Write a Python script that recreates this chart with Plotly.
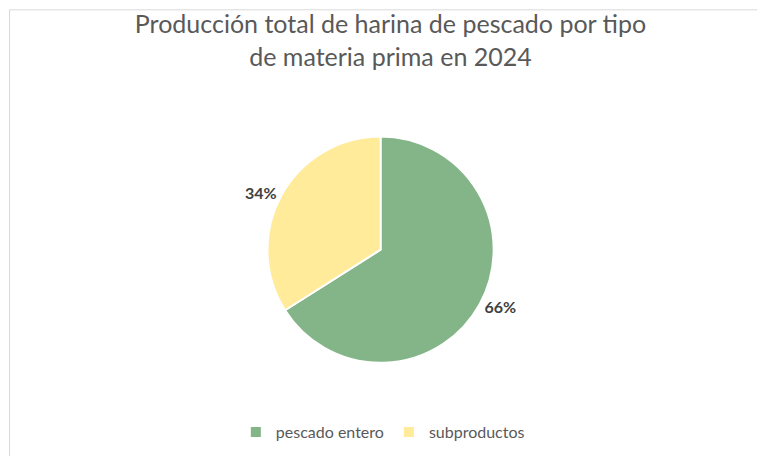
import plotly.graph_objects as go

categories = ["pescado entero", "subproductos"]
values = [66, 34]
colors = ["#84B589", "#FFEB99"]

fig = go.Figure(go.Pie(
    labels=categories, values=values, sort=False, direction="clockwise", rotation=0,
    marker=dict(colors=colors, line=dict(color="white", width=2)),
    textinfo="percent", textposition="outside",
    texttemplate="<b>%{percent:.0%}</b>",
    textfont=dict(size=16, color="#404040", family="Lato"),
    domain=dict(x=[0.339, 0.635], y=[0.222, 0.718]),
    showlegend=True,
))
fig.update_layout(
    width=765, height=456, margin=dict(l=0, r=0, t=0, b=0),
    paper_bgcolor="white", font=dict(family="Lato", color="#595959"),
    title=dict(text="Producción total de harina de pescado por tipo<br>de materia prima en 2024",
               x=0.5, xanchor="center", y=0.945, yanchor="top",
               font=dict(size=25, color="#595959", family="Lato")),
    legend=dict(orientation="h", x=0.49, xanchor="center", y=0.07, yanchor="middle",
                font=dict(size=16, color="#595959")),
    shapes=[dict(type="rect", xref="paper", yref="paper", x0=0.002, y0=0.004, x1=0.998, y1=0.996,
                 line=dict(color="#D9D9D9", width=1))],
)
fig.write_html("out.html")
